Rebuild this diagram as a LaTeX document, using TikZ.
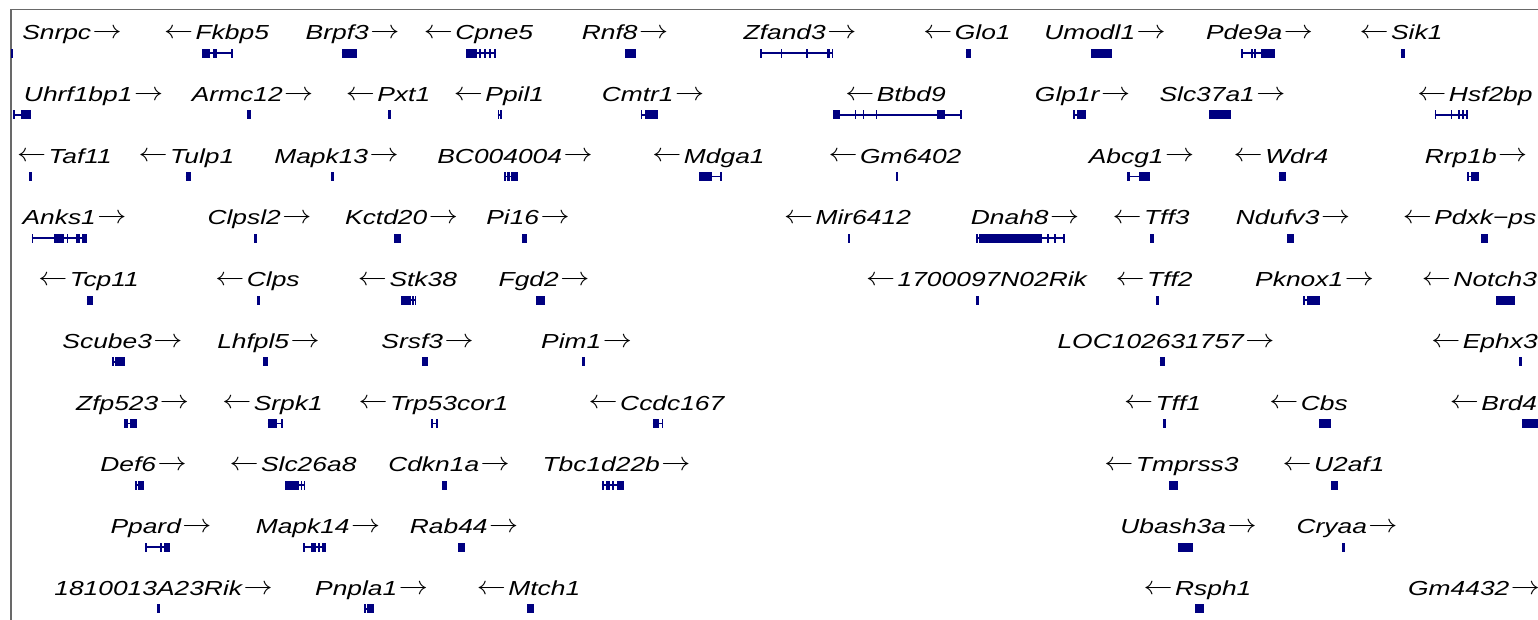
\documentclass[tikz,border=0pt]{standalone}
\usepackage{fontspec}
\usepackage{graphicx}
\newfontfamily\gfont{Liberation Sans}[FakeStretch=1.3]
\definecolor{gc}{RGB}{0,0,128}
\definecolor{framec}{RGB}{105,105,105}
\newcommand\AR{\hspace{1.5pt}\raisebox{1.2pt}{\scalebox{1.4}[1.25]{$\rightarrow$}}}
\newcommand\AL{\raisebox{1.2pt}{\scalebox{1.4}[1.25]{$\leftarrow$}}\hspace{2.5pt}}
\newcommand\Glab[4]{\node[lab] (#1) at (#3,{-(39.5+61.75*(#2-1))}) {#4};}
\newcommand\Gene[4]{\pgfmathsetmacro\gy{-(53+61.75*(#1-1))}%
  \draw[gc,line width=1.8] (#2,\gy) -- (#3,\gy);%
  \foreach \ea/\eb in {#4}{\fill[gc] (\ea,\gy-4.5) rectangle (\eb,\gy+4.5);}}
\tikzset{lab/.style={anchor=base, inner sep=0pt, font=\gfont\itshape\fontsize{20.3}{24}\selectfont}}
\begin{document}
\begin{tikzpicture}[x=1pt,y=1pt]
\useasboundingbox (0,0) rectangle (1538,-619);
% frame
\draw[framec,line width=1.5] (11,-630) -- (11,-9.5) -- (1550,-9.5);
% ---------- row 1
\Glab{snrpc}{1}{72}{Snrpc\AR}
\Gene{1}{11}{13}{11/13}
\Glab{fkbp5}{1}{216.5}{\AL Fkbp5}
\Gene{1}{202}{232.5}{202/210,213/217,231/232.5}
\Glab{brpf3}{1}{352.5}{Brpf3\AR}
\Gene{1}{341.7}{357.3}{341.7/357.3}
\Glab{cpne5}{1}{478.5}{\AL Cpne5}
\Gene{1}{466}{495.7}{466/477,479/481,484/486,489/491,494/495.7}
\Glab{rnf8}{1}{625}{Rnf8\AR}
\Gene{1}{625}{635.7}{625/635.7}
\Glab{zfand3}{1}{800}{Zfand3\AR}
\Gene{1}{760}{833.3}{760/761.5,780.5/782,806/807.5,826.5/829.5,831.8/833.3}
\Glab{glo1}{1}{967}{\AL Glo1}
\Gene{1}{965.7}{971}{965.7/971}
\Glab{umodl1}{1}{1105}{Umodl1\AR}
\Gene{1}{1091.3}{1112.3}{1091.3/1112.3}
\Glab{pde9a}{1}{1259.5}{Pde9a\AR}
\Gene{1}{1241.3}{1274.7}{1241.3/1243,1251/1252.5,1254/1255.5,1260.7/1274.7}
\Glab{sik1}{1}{1401}{\AL Sik1}
\Gene{1}{1400.7}{1404.7}{1400.7/1404.7}
% ---------- row 2
\Glab{uhrf1bp1}{2}{93.5}{Uhrf1bp1\AR}
\Gene{2}{13}{30.7}{13/14.5,20.5/30.7}
\Glab{armc12}{2}{252.5}{Armc12\AR}
\Gene{2}{247.3}{250.7}{247.3/250.7}
\Glab{pxt1}{2}{388}{\AL Pxt1}
\Gene{2}{387.7}{390.7}{387.7/390.7}
\Glab{ppil1}{2}{499}{\AL Ppil1}
\Gene{2}{497.7}{501.7}{497.7/499,500.4/501.7}
\Glab{cmtr1}{2}{653}{Cmtr1\AR}
\Gene{2}{640.7}{657.7}{640.7/642.2,644.5/657.7}
\Glab{btbd9}{2}{895.5}{\AL Btbd9}
\Gene{2}{833.3}{961.7}{833.3/840,854.5/856,862.5/864,875.5/877,937/945,960.2/961.7}
\Glab{glp1r}{2}{1082.5}{Glp1r\AR}
\Gene{2}{1073}{1086.3}{1073/1075,1076.5/1086.3}
\Glab{slc37a1}{2}{1222.5}{Slc37a1\AR}
\Gene{2}{1209}{1230.7}{1209/1230.7}
\Glab{hsf2bp}{2}{1475}{\AL Hsf2bp}
\Gene{2}{1434.7}{1468}{1434.7/1436.2,1450.5/1452,1457.5/1460,1461.5/1464,1465.5/1468}
% ---------- row 3
\Glab{taf11}{3}{64.5}{\AL Taf11}
\Gene{3}{29}{32.3}{29/32.3}
\Glab{tulp1}{3}{186.5}{\AL Tulp1}
\Gene{3}{185.7}{190.7}{185.7/190.7}
\Glab{mapk13}{3}{336.5}{Mapk13\AR}
\Gene{3}{331}{334.3}{331/334.3}
\Glab{bc004004}{3}{515}{BC004004\AR}
\Gene{3}{504.3}{517.7}{504.3/506,507/509.5,511/517.7}
\Glab{mdga1}{3}{708.5}{\AL Mdga1}
\Gene{3}{699.3}{721.7}{699.3/712,720.2/721.7}
\Glab{gm6402}{3}{895}{\AL Gm6402}
\Gene{3}{896}{897.7}{896/897.7}
\Glab{abcg1}{3}{1141.5}{Abcg1\AR}
\Gene{3}{1127}{1149.7}{1127/1130,1138.5/1149.7}
\Glab{wdr4}{3}{1281}{\AL Wdr4}
\Gene{3}{1278.7}{1286.3}{1278.7/1286.3}
\Glab{rrp1b}{3}{1476}{Rrp1b\AR}
\Gene{3}{1467.3}{1478.7}{1467.3/1469,1470.5/1478.7}
% ---------- row 4
\Glab{anks1}{4}{74.5}{Anks1\AR}
\Gene{4}{31.7}{87.3}{31.7/33.2,54.3/64,66.5/68,76/80,81.5/87.3}
\Glab{clpsl2}{4}{259.5}{Clpsl2\AR}
\Gene{4}{254.3}{257.3}{254.3/257.3}
\Glab{kctd20}{4}{401.5}{Kctd20\AR}
\Gene{4}{394.3}{401}{394.3/401}
\Glab{pi16}{4}{528}{Pi16\AR}
\Gene{4}{521.7}{526.7}{521.7/526.7}
\Glab{mir6412}{4}{847.5}{\AL Mir6412}
\Gene{4}{848.3}{850}{848.3/850}
\Glab{dnah8}{4}{1025}{Dnah8\AR}
\Gene{4}{976}{1064.7}{976/977.5,979/1042,1046.5/1048.5,1053.5/1055.5,1062.5/1064.7}
\Glab{tff3}{4}{1151}{\AL Tff3}
\Gene{4}{1150.3}{1153.7}{1150.3/1153.7}
\Glab{ndufv3}{4}{1293}{Ndufv3\AR}
\Gene{4}{1287.3}{1293.7}{1287.3/1293.7}
\Glab{pdxkps}{4}{1469.5}{\AL Pdxk−ps}
\Gene{4}{1481.3}{1488}{1481.3/1488}
% ---------- row 5
\Glab{tcp11}{5}{88.5}{\AL Tcp11}
\Gene{5}{86.7}{93.3}{86.7/93.3}
\Glab{clps}{5}{257.5}{\AL Clps}
\Gene{5}{257.3}{260}{257.3/260}
\Glab{stk38}{5}{407.5}{\AL Stk38}
\Gene{5}{401}{416}{401/411,412/413.5,414.5/416}
\Glab{fgd2}{5}{544}{Fgd2\AR}
\Gene{5}{536}{545}{536/545}
\Glab{rik1700}{5}{976.5}{\AL 1700097N02Rik}
\Gene{5}{975.5}{978.5}{975.5/978.5}
\Glab{tff2}{5}{1154}{\AL Tff2}
\Gene{5}{1155.7}{1158.7}{1155.7/1158.7}
\Glab{pknox1}{5}{1314.5}{Pknox1\AR}
\Gene{5}{1303}{1319.7}{1303/1304.5,1307/1319.7}
\Glab{notch3}{5}{1479.5}{\AL Notch3}
\Gene{5}{1496.3}{1514.7}{1496.3/1514.7}
% ---------- row 6
\Glab{scube3}{6}{122.5}{Scube3\AR}
\Gene{6}{112.3}{125}{112.3/114,115/125}
\Glab{lhfpl5}{6}{268.5}{Lhfpl5\AR}
\Gene{6}{263.3}{267.7}{263.3/267.7}
\Glab{srsf3}{6}{427.5}{Srsf3\AR}
\Gene{6}{422.3}{427.7}{422.3/427.7}
\Glab{pim1}{6}{586.5}{Pim1\AR}
\Gene{6}{582}{585}{582/585}
\Glab{loc}{6}{1166}{LOC102631757\AR}
\Gene{6}{1159.7}{1165.3}{1159.7/1165.3}
\Glab{ephx3}{6}{1484.5}{\AL Ephx3}
\Gene{6}{1519}{1521.5}{1519/1521.5}
% ---------- row 7
\Glab{zfp523}{7}{132.5}{Zfp523\AR}
\Gene{7}{124.3}{136.7}{124.3/128,129.5/136.7}
\Glab{srpk1}{7}{272.5}{\AL Srpk1}
\Gene{7}{267.7}{282.7}{267.7/277,281/282.7}
\Glab{trp53cor1}{7}{433.5}{\AL Trp53cor1}
\Gene{7}{431}{437.7}{431/432.5,436.2/437.7}
\Glab{ccdc167}{7}{656.5}{\AL Ccdc167}
\Gene{7}{652.7}{663.3}{652.7/658.5,661.5/663.3}
\Glab{tff1}{7}{1162.5}{\AL Tff1}
\Gene{7}{1162.8}{1165.5}{1162.8/1165.5}
\Glab{cbs}{7}{1308.5}{\AL Cbs}
\Gene{7}{1319}{1330.7}{1319/1330.7}
\Glab{brd4}{7}{1493.5}{\AL Brd4}
\Gene{7}{1522}{1540}{1522/1540}
% ---------- row 8
\Glab{def6}{8}{143.5}{Def6\AR}
\Gene{8}{135}{144}{135/136.5,137.5/144}
\Glab{slc26a8}{8}{293}{\AL Slc26a8}
\Gene{8}{285}{305}{285/299,300.5/302,303.5/305}
\Glab{cdkn1a}{8}{449}{Cdkn1a\AR}
\Gene{8}{442.3}{446.7}{442.3/446.7}
\Glab{tbc1d22b}{8}{616.5}{Tbc1d22b\AR}
\Gene{8}{601.7}{624}{601.7/603.5,606/610,612/613.5,616.5/624}
\Glab{tmprss3}{8}{1171.5}{\AL Tmprss3}
\Gene{8}{1169}{1178}{1169/1178}
\Glab{u2af1}{8}{1333.5}{\AL U2af1}
\Gene{8}{1331.3}{1338}{1331.3/1338}
% ---------- row 9
\Glab{ppard}{9}{161}{Ppard\AR}
\Gene{9}{145}{169.5}{145/146.5,160/161.5,163.5/169.5}
\Glab{mapk14}{9}{318}{Mapk14\AR}
\Gene{9}{303}{326}{303/304.5,311/316,317.5/320,321.5/326}
\Glab{rab44}{9}{464}{Rab44\AR}
\Gene{9}{458}{465}{458/465}
\Glab{ubash3a}{9}{1188.5}{Ubash3a\AR}
\Gene{9}{1178}{1193}{1178/1193}
\Glab{cryaa}{9}{1347}{Cryaa\AR}
\Gene{9}{1342}{1345}{1342/1345}
% ---------- row 10
\Glab{rik1810}{10}{163.5}{1810013A23Rik\AR}
\Gene{10}{157}{160}{157/160}
\Glab{pnpla1}{10}{371.5}{Pnpla1\AR}
\Gene{10}{364}{374}{364/365.5,367/374}
\Glab{mtch1}{10}{528.5}{\AL Mtch1}
\Gene{10}{527}{534}{527/534}
\Glab{rsph1}{10}{1197.5}{\AL Rsph1}
\Gene{10}{1195}{1204}{1195/1204}
\Glab{gm4432}{10}{1474}{Gm4432\AR}
\end{tikzpicture}
\end{document}
